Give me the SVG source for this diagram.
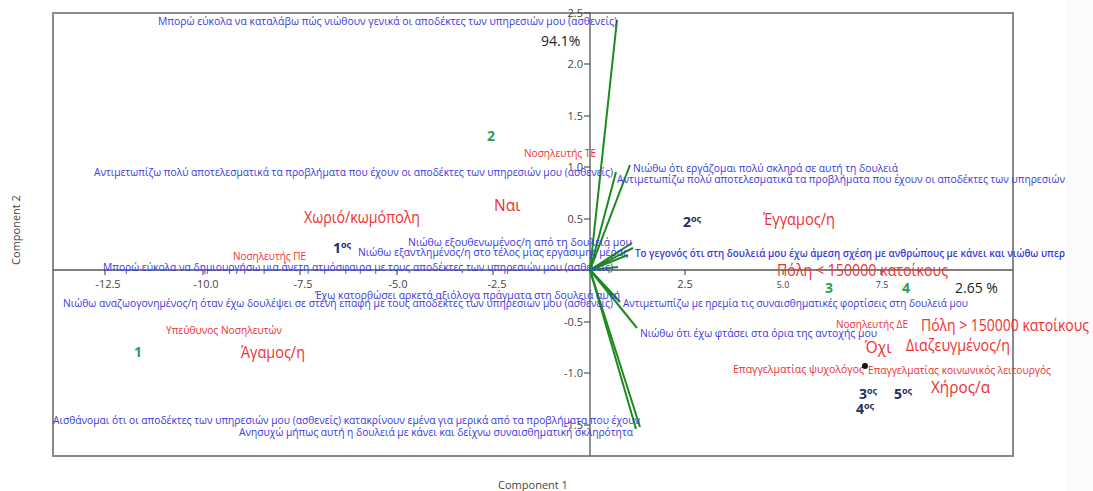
<svg xmlns="http://www.w3.org/2000/svg" width="1093" height="491" viewBox="0 0 1093 491">
<style>
text{font-family:"Open Sans","Liberation Sans",sans-serif}
.b{fill:#3838e0;font-size:10.5px}
.r{fill:#ee3030;font-size:10.5px}
.R{fill:#ee3030;font-size:15.5px}
.g{fill:#2aa055;font-size:14px;font-weight:bold}
.n{fill:#1f2f60;font-size:14px;font-weight:bold}
.t{fill:#444;font-size:11px}
.v{stroke:#1d8a1d;stroke-width:2;fill:none}
.ax{stroke:#555;stroke-width:1.3;fill:none}
</style>
<rect x="0" y="0" width="1093" height="491" fill="#fff"/>
<rect x="1066" y="0" width="27" height="491" fill="#fbfbfb"/>
<g id="frame">
<rect x="53" y="13" width="960" height="443" fill="none" stroke="#8a8a8a" stroke-width="2"/>
<line class="ax" x1="53" y1="270" x2="1013" y2="270"/>
<line class="ax" x1="590" y1="13" x2="590" y2="456"/>
<g stroke="#555" stroke-width="1.2">
<line x1="584" y1="13" x2="590" y2="13"/><line x1="584" y1="64" x2="590" y2="64"/><line x1="584" y1="116" x2="590" y2="116"/><line x1="584" y1="167" x2="590" y2="167"/><line x1="584" y1="219" x2="590" y2="219"/><line x1="584" y1="322" x2="590" y2="322"/><line x1="584" y1="373" x2="590" y2="373"/><line x1="584" y1="425" x2="590" y2="425"/>
<line x1="105" y1="270" x2="105" y2="275"/><line x1="203" y1="270" x2="203" y2="275"/><line x1="300" y1="270" x2="300" y2="275"/><line x1="397" y1="270" x2="397" y2="275"/><line x1="493" y1="270" x2="493" y2="275"/><line x1="685" y1="270" x2="685" y2="275"/><line x1="783" y1="270" x2="783" y2="275"/><line x1="881" y1="270" x2="881" y2="275"/>
</g>
<g class="t" text-anchor="end">
<text x="583" y="17">2.5</text><text x="583" y="68">2.0</text><text x="583" y="120">1.5</text><text x="583" y="171">1.0</text><text x="583" y="223">0.5</text><text x="583" y="326">-0.5</text><text x="583" y="377">-1.0</text><text x="583" y="429">-1.5</text>
</g>
<g class="t" text-anchor="middle">
<text x="108" y="288">-12.5</text><text x="206" y="288">-10.0</text><text x="303" y="288">-7.5</text><text x="398" y="288">-5.0</text><text x="497" y="288">-2.5</text><text x="685" y="288">2.5</text><text x="783" y="288" font-size="9">5.0</text><text x="882" y="288" font-size="9">7.5</text>
</g>
<text class="t" x="533" y="489" text-anchor="middle">Component 1</text>
<text class="t" x="0" y="0" text-anchor="middle" transform="translate(20,230) rotate(-90)">Component 2</text>
</g>
<g id="connectors">
<line class="v" x1="590" y1="270" x2="617" y2="20"/>
<line class="v" x1="590" y1="270" x2="616" y2="172"/>
<line class="v" x1="590" y1="270" x2="630" y2="165"/>
<line class="v" x1="590" y1="270" x2="632" y2="243"/>
<line class="v" x1="590" y1="270" x2="633" y2="248"/>
<line class="v" x1="590" y1="270" x2="628" y2="255"/>
<line class="v" x1="590" y1="270" x2="618" y2="267"/>
<line class="v" x1="590" y1="270" x2="620" y2="302"/>
<line class="v" x1="590" y1="270" x2="617" y2="299"/>
<line class="v" x1="590" y1="270" x2="637" y2="328"/>
<line class="v" x1="590" y1="270" x2="640" y2="427"/>
<line class="v" x1="590" y1="270" x2="636" y2="429"/>
</g>
<g id="variables">
<text class="b" x="158" y="25" textLength="459" lengthAdjust="spacingAndGlyphs">Μπορώ εύκολα να καταλάβω πώς νιώθουν γενικά οι αποδέκτες των υπηρεσιών μου (ασθενείς)</text>
<text class="b" x="94" y="176" textLength="519" lengthAdjust="spacingAndGlyphs">Αντιμετωπίζω πολύ αποτελεσματικά τα προβλήματα που έχουν οι αποδέκτες των υπηρεσιών μου (ασθενείς)</text>
<text class="b" x="633" y="172" textLength="265" lengthAdjust="spacingAndGlyphs">Νιώθω ότι εργάζομαι πολύ σκληρά σε αυτή τη δουλειά</text>
<text class="b" x="617" y="183" textLength="448" lengthAdjust="spacingAndGlyphs">Αντιμετωπίζω πολύ αποτελεσματικά τα προβλήματα που έχουν οι αποδέκτες των υπηρεσιών</text>
<text class="b" x="408" y="246" textLength="224" lengthAdjust="spacingAndGlyphs">Νιώθω εξουθενωμένος/η από τη δουλειά μου</text>
<text class="b" x="358" y="256" textLength="270" lengthAdjust="spacingAndGlyphs">Νιώθω εξαντλημένος/η στο τέλος μιας εργάσιμης μέρας</text>
<text class="b" x="635" y="257" textLength="430" lengthAdjust="spacingAndGlyphs" font-weight="600">Το γεγονός ότι στη δουλειά μου έχω άμεση σχέση με ανθρώπους με κάνει και νιώθω υπερ</text>
<text class="b" x="103" y="271" textLength="510" lengthAdjust="spacingAndGlyphs">Μπορώ εύκολα να δημιουργήσω μια άνετη ατμόσφαιρα με τους αποδέκτες των υπηρεσιών μου (ασθενείς)</text>
<text class="b" x="315" y="299" textLength="305" lengthAdjust="spacingAndGlyphs">Έχω κατορθώσει αρκετά αξιόλογα πράγματα στη δουλειά αυτή</text>
<text class="b" x="63" y="307" textLength="550" lengthAdjust="spacingAndGlyphs">Νιώθω αναζωογονημένος/η όταν έχω δουλέψει σε στενή επαφή με τους αποδέκτες των υπηρεσιών μου (ασθενείς)</text>
<text class="b" x="623" y="307" textLength="345" lengthAdjust="spacingAndGlyphs">Αντιμετωπίζω με ηρεμία τις συναισθηματικές φορτίσεις στη δουλειά μου</text>
<text class="b" x="640" y="337" textLength="237" lengthAdjust="spacingAndGlyphs">Νιώθω ότι έχω φτάσει στα όρια της αντοχής μου</text>
<text class="b" x="53" y="424" textLength="587" lengthAdjust="spacingAndGlyphs">Αισθάνομαι ότι οι αποδέκτες των υπηρεσιών μου (ασθενείς) κατακρίνουν εμένα για μερικά από τα προβλήματα που έχουν</text>
<text class="b" x="239" y="436" textLength="394" lengthAdjust="spacingAndGlyphs">Ανησυχώ μήπως αυτή η δουλειά με κάνει και δείχνω συναισθηματική σκληρότητα</text>
</g>
<g id="categories">
<text class="r" x="524" y="157" textLength="72" lengthAdjust="spacingAndGlyphs">Νοσηλευτής ΤΕ</text>
<text class="r" x="233" y="260" textLength="73" lengthAdjust="spacingAndGlyphs">Νοσηλευτής ΠΕ</text>
<text class="r" x="166" y="334" textLength="116" lengthAdjust="spacingAndGlyphs">Υπεύθυνος Νοσηλευτών</text>
<text class="r" x="836" y="328" textLength="72" lengthAdjust="spacingAndGlyphs">Νοσηλευτής ΔΕ</text>
<text class="r" x="733" y="373" textLength="131" lengthAdjust="spacingAndGlyphs">Επαγγελματίας ψυχολόγος</text>
<text class="r" x="868" y="374" textLength="183" lengthAdjust="spacingAndGlyphs">Επαγγελματίας κοινωνικός λειτουργός</text>
<circle cx="865" cy="366" r="3" fill="#111"/>
<text class="R" x="304" y="223" textLength="116" lengthAdjust="spacingAndGlyphs">Χωριό/κωμόπολη</text>
<text class="R" x="494" y="211">Ναι</text>
<text class="R" x="763" y="225" textLength="72" lengthAdjust="spacingAndGlyphs">Έγγαμος/η</text>
<text class="R" x="777" y="276" textLength="171" lengthAdjust="spacingAndGlyphs">Πόλη &lt; 150000 κατοίκους</text>
<text class="R" x="921" y="331" textLength="168" lengthAdjust="spacingAndGlyphs">Πόλη &gt; 150000 κατοίκους</text>
<text class="R" x="241" y="358" textLength="64" lengthAdjust="spacingAndGlyphs">Άγαμος/η</text>
<text class="R" x="865" y="353">Όχι</text>
<text class="R" x="906" y="351" textLength="104" lengthAdjust="spacingAndGlyphs">Διαζευγμένος/η</text>
<text class="R" x="931" y="393" textLength="59" lengthAdjust="spacingAndGlyphs">Χήρος/α</text>
</g>
<g id="clusters">
<text class="g" x="487" y="141">2</text>
<text class="g" x="134" y="357">1</text>
<text class="g" x="825" y="293">3</text>
<text class="g" x="902" y="293">4</text>
<text class="n" x="333" y="253">1<tspan dy="-5" font-size="9">ος</tspan></text>
<text class="n" x="683" y="227">2<tspan dy="-5" font-size="9">ος</tspan></text>
<text class="n" x="859" y="399">3<tspan dy="-5" font-size="9">ος</tspan></text>
<text class="n" x="894" y="399">5<tspan dy="-5" font-size="9">ος</tspan></text>
<text class="n" x="856" y="414">4<tspan dy="-5" font-size="9">ος</tspan></text>
</g>
<g id="variance">
<text x="541" y="46" font-size="14" fill="#222">94.1%</text>
<text x="955" y="293" font-size="14" fill="#222">2.65 %</text>
</g>
</svg>
